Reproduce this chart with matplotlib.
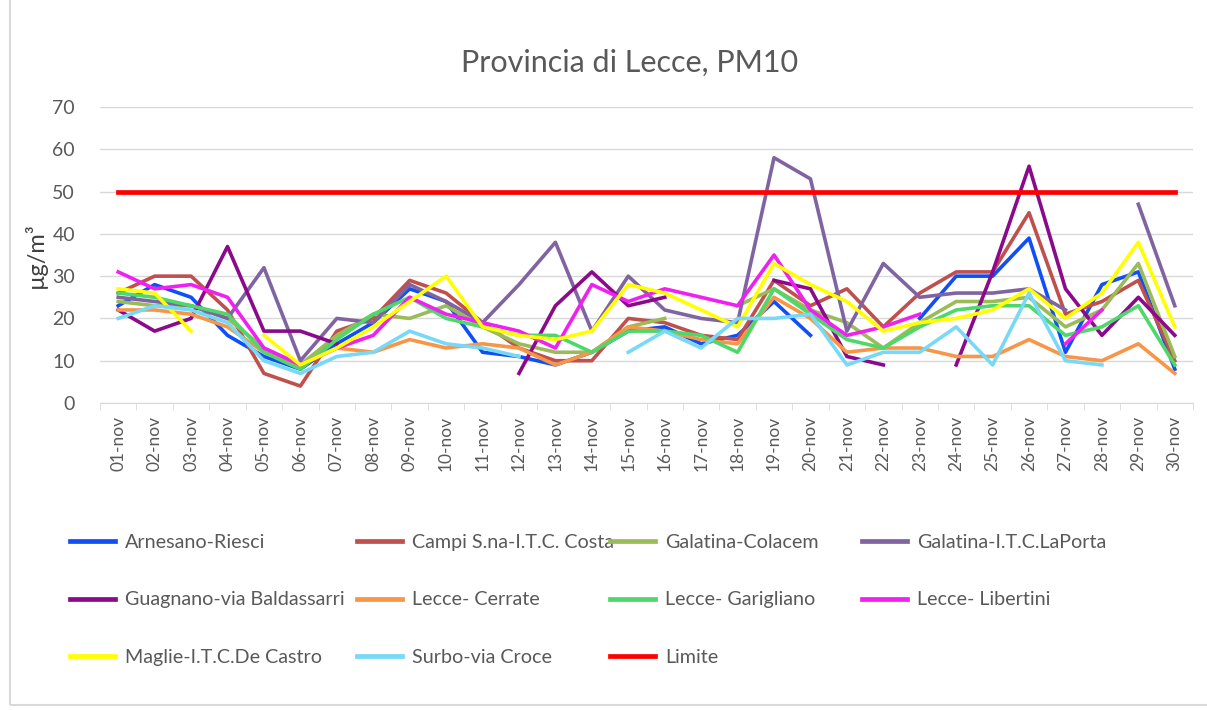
import numpy as np
import matplotlib
matplotlib.use("Agg")
import matplotlib.pyplot as plt
from matplotlib.patches import Rectangle

plt.rcParams['font.family'] = ['Lato', 'DejaVu Sans']

nan = np.nan
giorni = ['%02d-nov' % d for d in range(1, 31)]

arnesano = [23, 28, 25, 16, 11, 8, 14, 19, 27, 24, 12, 11, 9, 12, 17, 18, 14, 16, 24, 16,
            nan, nan, 20, 30, 30, 39, 12, 28, 31, 8]
campi = [26, 30, 30, 22, 7, 4, 17, 20, 29, 26, 19, 13, 10, 10, 20, 19, 16, 15, 29, 23,
         27, 18, 26, 31, 31, 45, 21, 24, 29, 10]
colacem = [24, 23, 23, 20, 13, 9, 16, 21, 20, 23, 18, 14, 12, 12, 18, 20, nan, 23, 27, 22,
           19, 13, 19, 24, 24, 25, 18, 22, 33, 11]
laporta = [25, 24, 23, 20, 32, 10, 20, 19, 28, 24, 19, 28, 38, 17, 30, 22, 20, 19, 58, 53,
           17, 33, 25, 26, 26, 27, 22, nan, 47, 23]
guagnano = [22, 17, 20, 37, 17, 17, 14, nan, nan, nan, nan, 7, 23, 31, 23, 25, nan, nan, 29, 27,
            11, 9, nan, 9, 31, 56, 27, 16, 25, 16]
cerrate = [22, 22, 21, 18, 12, 9, 13, 12, 15, 13, 14, 13, 9, 12, 18, 17, 15, 14, 25, 20,
           12, 13, 13, 11, 11, 15, 11, 10, 14, 7]
garigliano = [26, 25, 23, 21, 12, 8, 15, 21, 25, 20, 18, 16, 16, 12, 17, 17, 16, 12, 27, 21,
              15, 13, 18, 22, 23, 23, 16, 18, 23, 9]
libertini = [31, 27, 28, 25, 13, 9, 13, 16, 25, 21, 19, 17, 13, 28, 24, 27, 25, 23, 35, 22,
             16, 18, 21, nan, nan, nan, 14, 22, nan, nan]
maglie = [27, 26, 17, nan, 16, 9, 13, 18, 24, 30, 18, 16, 15, 17, 28, 26, 22, 18, 33, 28,
          24, 17, 19, 20, 22, 27, 20, 26, 38, 18]
surbo = [20, 23, 22, 19, 10, 7, 11, 12, 17, 14, 13, 11, nan, nan, 12, 17, 13, 20, 20, 21,
         9, 12, 12, 18, 9, 26, 10, 9, nan, nan]
limite = [50] * 30

serie = [
    ('Arnesano-Riesci', arnesano, '#0F4FF5'),
    ('Campi S.na-I.T.C. Costa', campi, '#C0504D'),
    ('Galatina-Colacem', colacem, '#9BBB59'),
    ('Galatina-I.T.C.LaPorta', laporta, '#8064A2'),
    ('Guagnano-via Baldassarri', guagnano, '#8B0A8B'),
    ('Lecce- Cerrate', cerrate, '#F79646'),
    ('Lecce- Garigliano', garigliano, '#4FD86A'),
    ('Lecce- Libertini', libertini, '#F020F0'),
    ('Maglie-I.T.C.De Castro', maglie, '#FFFF00'),
    ('Surbo-via Croce', surbo, '#78D8F8'),
]

fig = plt.figure(figsize=(12.07, 7.10), dpi=100)
ax = fig.add_axes([100 / 1207, 1 - 403 / 710, 1093 / 1207, 296 / 710])

x = np.arange(len(giorni))
linee = {}
for nome, valori, colore in serie:
    linee[nome], = ax.plot(x, valori, color=colore, lw=2.6, label=nome)
linee['Limite'], = ax.plot(x, limite, color='#FF0000', lw=3.4, label='Limite')

ax.set_xlim(-0.5, 29.5)
ax.set_ylim(0, 70)
ax.set_yticks(range(0, 71, 10))
ax.yaxis.grid(True, color='#D9D9D9', lw=1)
ax.set_axisbelow(True)
for s in ['top', 'right', 'left']:
    ax.spines[s].set_visible(False)
ax.spines['bottom'].set_color('#D9D9D9')
ax.set_xticks(x)
ax.set_xticklabels(giorni, rotation=90, fontsize=12.5, color='#595959')
ax.set_xticks(np.arange(-0.5, 30, 1), minor=True)
ax.tick_params(axis='x', which='major', length=0, pad=9)
ax.tick_params(axis='x', which='minor', length=5, color='#D9D9D9')
ax.tick_params(axis='y', length=0, labelsize=14, labelcolor='#595959', pad=18)
ax.set_ylabel('µg/m³', fontsize=17, color='#404040', labelpad=4)

fig.text(0.522, 1 - 63 / 710, 'Provincia di Lecce, PM10', ha='center', va='center',
         fontsize=22, color='#595959')

# legenda su 4 colonne fisse
colonne = [
    ['Arnesano-Riesci', 'Guagnano-via Baldassarri', 'Maglie-I.T.C.De Castro'],
    ['Campi S.na-I.T.C. Costa', 'Lecce- Cerrate', 'Surbo-via Croce'],
    ['Galatina-Colacem', 'Lecce- Garigliano', 'Limite'],
    ['Galatina-I.T.C.LaPorta', 'Lecce- Libertini'],
]
xcol = [70, 357, 610, 862]
for nomi, xc in zip(colonne, xcol):
    leg = fig.legend([linee[n] for n in nomi], nomi, loc='upper left',
                     bbox_to_anchor=(xc / 1207, 1 - 534 / 710), frameon=False,
                     fontsize=14.2, labelspacing=2.05, handlelength=2.3,
                     handletextpad=0.5, borderaxespad=0, borderpad=0)
    for t in leg.get_texts():
        t.set_color('#595959')
    for l in leg.get_lines():
        l.set_linewidth(3.4)

fig.patches.append(Rectangle((10 / 1207, 5 / 710), 1.2, 1.2, transform=fig.transFigure,
                             fill=False, edgecolor='#D9D9D9', lw=1.5))

fig.savefig('out.png', dpi=100)
